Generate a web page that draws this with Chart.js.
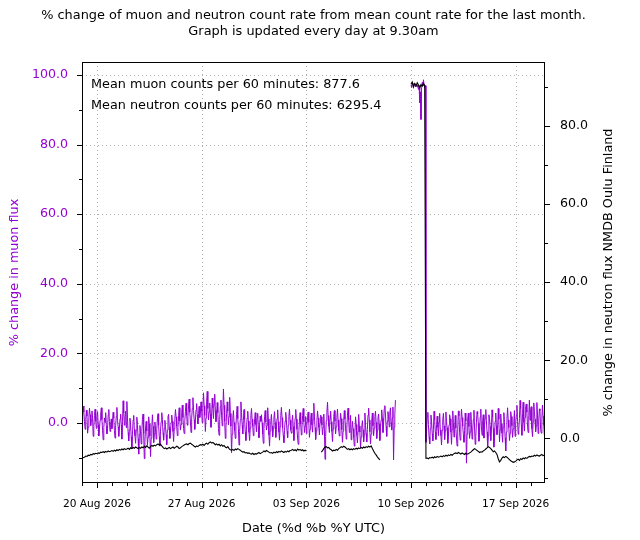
<!DOCTYPE html>
<html>
<head>
<meta charset="utf-8">
<script src="https://cdn.jsdelivr.net/npm/chart.js@4.4.0/dist/chart.umd.min.js"></script>
<style>
html, body { margin: 0; padding: 0; background: #ffffff; }
canvas { display: block; }
</style>
</head>
<body>
<canvas id="c" width="640" height="540"></canvas>
<script>
// ---- data: samples start 19 Aug 2026 00:00 UTC ----
const muonSamplesPerDay = 24;     // hourly muon values
const neutronSamplesPerDay = 12;  // 2-hourly neutron values

const muon = [
  // 19 Aug
  -0.5, 2.1, 4.9, 3.2, 0.4, -1.8, 1.1, 3.7, 2.0, -2.9, -1.2, 1.6, 4.3, 2.4, -0.7, 0.9, 3.5, 1.3, -3.8, -1.0, 2.2, 4.0, 0.6, -1.5,
  // 20 Aug
  1.8, 3.3, -0.4, -3.7, -1.9, 0.8, 2.6, 4.4, 1.0, -2.2, -4.8, -1.3, 1.5, 0.2, 3.0, -0.9, -3.1, -1.6, 2.3, 3.9, 0.5, -2.4, -0.3, 1.2,
  // 21 Aug
  -1.6, 0.9, 3.1, 1.4, -2.2, -4.3, -0.8, 2.0, 4.5, 0.7, -1.1, -3.8, -1.4, 1.2, 2.6, -0.5, -4.6, 0.4, 6.4, 2.9, -0.6, 1.8, 3.4, -1.3,
  // 22 Aug
  6.2, 1.5, -2.7, -5.1, -1.9, 1.4, -0.6, -4.0, -7.4, -3.3, 0.9, 2.2, -1.8, -3.6, -5.8, -2.1, 1.7, -0.4, -4.5, -8.9, -3.2, -0.7, -2.9, -6.0,
  // 23 Aug
  -2.4, 1.1, 2.6, -3.0, -10.2, -5.2, -1.4, 0.5, -2.3, -6.4, -4.1, 1.8, -0.2, -3.7, -9.6, -4.4, -1.2, 2.4, -0.9, -5.6, -3.1, 0.3, -1.7, -4.6,
  // 24 Aug
  -1.9, 1.2, 2.7, -0.6, -3.9, -6.6, -2.3, 0.4, 3.0, 1.1, -2.8, -4.9, -1.5, 0.8, -0.9, -3.4, -6.2, -2.0, 1.9, 2.5, -1.2, -4.4, -2.6, 0.2,
  // 25 Aug
  2.3, 0.5, -2.4, -5.3, -1.7, 1.3, 3.9, 1.8, -0.9, -3.6, -1.2, 2.1, 4.4, 0.6, -2.0, -0.4, 3.1, 5.2, 1.6, -1.5, -3.0, 0.8, 3.4, 5.7,
  // 26 Aug
  2.2, -0.6, 1.8, 4.9, 6.9, 3.1, 0.3, -2.7, 1.4, 4.2, 7.3, 3.6, 1.0, -1.8, 0.9, 3.8, 5.6, 2.4, -0.2, 2.7, 4.8, 1.6, 3.2, 6.1,
  // 27 Aug
  3.4, 0.1, 4.6, 8.7, 5.0, 2.2, -2.4, 1.5, 6.3, 9.1, 4.2, 0.9, 3.1, 5.8, 2.6, -1.2, 2.0, 7.2, 4.4, 1.3, 5.5, 8.3, 3.7, 0.4,
  // 28 Aug
  2.5, 5.9, 3.0, -1.6, -3.5, 1.1, 4.8, 6.6, 2.3, -0.8, 3.3, 9.8, 5.1, 0.6, -4.4, -1.3, 2.7, 6.1, 3.4, -0.5, 1.9, 7.4, 2.8, -0.9,
  // 29 Aug
  -8.5, -3.2, 1.4, 3.6, 0.2, -2.1, -4.4, -0.7, 2.5, 4.8, 1.3, -1.6, -6.3, -2.4, 1.0, 6.1, 3.0, -0.5, -3.1, 0.8, 3.9, 1.2, -2.6, -5.0,
  // 30 Aug
  -1.8, 1.5, 3.4, 0.6, -2.7, -5.0, -1.4, 2.2, 4.2, 1.1, -0.9, -3.6, -1.2, 0.9, 3.0, -0.4, -2.5, 1.6, 2.8, -1.1, -4.2, -0.3, 2.0, 0.5,
  // 31 Aug
  2.4, 0.1, -3.2, -5.8, -1.5, 1.8, 3.6, 0.3, -2.0, -0.6, 4.4, 1.2, -3.4, -6.6, -2.2, 0.7, 2.5, -0.8, -3.9, -1.6, 1.5, 3.3, 0.2, -4.1,
  // 01 Sep
  -1.8, 1.3, 3.8, 0.4, -2.6, -4.9, -1.0, 2.2, 4.5, 1.6, -1.3, -3.5, -5.6, -2.1, 0.6, 3.1, 1.0, -2.4, -4.2, -0.5, 1.9, 4.0, 0.8, -2.0,
  // 02 Sep
  -2.9, 0.6, 2.3, -1.0, -5.0, -2.6, 1.4, 3.9, 1.2, -1.8, -4.3, -6.1, -2.4, 0.9, 3.0, -0.3, -3.4, -1.2, 2.2, 4.2, 0.4, -2.7, -0.8, 1.9,
  // 03 Sep
  -3.0, -0.7, 1.7, 3.2, 0.2, -4.1, -1.8, 1.4, 2.9, -0.5, -2.6, 1.1, 5.7, 2.0, -1.3, -4.7, -2.2, 0.8, 3.5, 1.5, -1.2, -3.4, 0.1, 2.3,
  // 04 Sep
  1.8, -0.6, -3.4, -1.1, 2.6, -2.0, -10.4, -3.9, 0.7, 3.1, 6.0, 2.2, -0.8, -2.7, 1.3, 3.4, 0.4, -2.4, -5.3, -1.7, 1.9, 3.6, 0.5, -3.1,
  // 05 Sep
  -1.0, 1.6, 4.0, 0.9, -2.1, -3.7, -0.6, 2.8, 1.3, -1.9, -5.5, -2.3, 0.8, 3.6, 1.1, -1.4, -4.6, -1.5, 2.3, 4.3, 0.9, -2.7, -0.4, 2.2,
  // 06 Sep
  -4.8, -2.2, 0.5, -1.6, -4.1, -6.6, -3.0, 1.8, -0.4, -3.5, -5.7, -2.4, 2.5, -0.8, -2.6, -7.1, -4.0, -1.1, 0.7, -1.9, -5.4, -3.2, 2.9, -0.6,
  // 07 Sep
  -3.0, -5.4, -1.8, 2.3, 4.3, 0.9, -2.5, -6.0, -3.1, 0.6, 2.9, -0.8, -3.6, -1.4, 1.9, 3.4, 0.2, -4.4, -2.1, 1.5, 2.6, -0.2, -5.0, -1.3,
  // 08 Sep
  0.9, 3.8, 1.4, -2.7, -0.3, 4.1, 5.0, 2.6, -1.0, -3.8, 0.6, 3.3, 1.8, -1.1, 2.9, 4.4, 0.2, -2.0, 1.5, 4.6, -10.6, -1.2, 2.4, 6.6,
  // 09 Sep (no data)
  null, null, null, null, null, null, null, null, null, null, null, null,
  null, null, null, null, null, null, null, null, null, null, null, null,
  // 10 Sep
  97.0, 96.4, 97.6, 97.1, 96.9, 97.5, 97.3, 96.7, 96.6, 97.2, 97.1, 96.5, 95.8, 96.9, 92.0, 95.1, 87.2, 96.3, 97.8, 96.8, 98.6, 97.0, 96.4, 96.9,
  // 11 Sep
  -5.5, -2.3, 1.7, 3.1, -0.4, -4.0, -6.0, -1.5, 2.3, 0.6, -3.0, -5.1, -1.9, 3.4, 0.9, -2.6, -4.7, -0.4, 2.0, -1.2, -3.6, 0.3, 2.8, -1.9,
  // 12 Sep
  -3.6, -6.3, -2.1, 1.0, 2.8, -0.8, -4.7, -2.1, 3.2, 0.4, -1.3, -5.8, -3.9, -0.5, 2.4, 1.2, -2.6, -6.1, -1.8, 3.5, 0.1, -4.0, -1.8, 2.2,
  // 13 Sep
  -1.4, -4.3, -6.6, -1.7, 3.5, 2.1, -2.8, -4.9, 0.2, 4.0, 1.6, -0.9, -3.3, -5.5, -2.2, 2.9, 0.6, -11.5, -3.2, 1.2, 2.9, -1.0, -4.4, -2.5,
  // 14 Sep
  3.1, -0.5, -4.6, -2.3, 1.0, 3.7, -1.4, -6.1, -3.9, 0.2, 3.3, 2.6, -0.1, -5.2, -2.8, 1.8, 4.0, -1.1, -3.5, 0.7, 2.4, -4.3, -0.6, 1.4,
  // 15 Sep
  3.9, 0.8, -2.5, -6.7, -3.6, 2.4, 1.4, -1.0, -5.0, -2.0, 3.8, 1.8, -1.5, -6.9, -4.1, 0.5, 2.9, -0.7, -3.3, -1.5, 4.2, 1.1, -5.4, -2.0,
  // 16 Sep
  2.6, -0.3, -2.9, -5.5, -1.2, 3.0, 0.2, -4.2, -8.0, -2.6, 1.4, 4.4, 0.9, -1.3, -5.0, -2.9, 3.3, 1.9, -0.8, -4.1, -1.7, 0.5, 3.6, -3.8,
  // 17 Sep
  0.1, 2.2, 5.1, 0.5, -3.2, -1.9, 1.3, 6.5, 4.2, -0.4, -3.5, 2.8, 6.0, 0.2, -2.3, 1.6, 4.7, 5.5, 3.1, -0.9, -2.7, 2.2, 6.6, 0.8,
  // 18 Sep
  3.9, 4.7, -1.6, -3.9, 0.3, 5.8, 3.4, 1.1, -2.5, -0.7, 5.9, 2.3, -3.0, 0.6, 4.1, 3.6, -1.8, -2.9, 1.4, 5.2, 2.0, -0.5, -3.4, 3.2
];

const neutron = [
  // 19 Aug
  -5.1, -4.9, -4.8, -4.5, -4.6, -4.3, -4.4, -4.1, -4.2, -3.9, -4.0, -3.8,
  // 20 Aug
  -3.9, -3.7, -3.8, -3.5, -3.6, -3.4, -3.6, -3.3, -3.5, -3.2, -3.4, -3.3,
  // 21 Aug
  -3.1, -3.3, -3.0, -3.2, -2.9, -3.1, -2.8, -3.0, -2.7, -2.9, -2.6, -2.8,
  // 22 Aug
  -2.7, -2.5, -2.8, -2.4, -2.6, -2.3, -2.5, -2.2, -2.4, -2.6, -2.3, -2.5,
  // 23 Aug
  -2.2, -2.4, -2.0, -2.3, -1.9, -2.2, -2.5, -2.1, -1.8, -2.0, -1.7, -1.9,
  // 24 Aug
  -1.6, -1.4, -1.7, -1.5, -1.9, -2.3, -2.6, -2.4, -2.7, -2.5, -2.3, -2.6,
  // 25 Aug
  -2.4, -2.2, -2.5, -2.3, -2.0, -2.2, -2.6, -2.4, -2.1, -1.9, -1.7, -1.5,
  // 26 Aug
  -1.4, -1.6, -1.3, -1.2, -1.5, -1.7, -2.0, -2.2, -1.9, -2.1, -1.8, -1.6,
  // 27 Aug
  -1.7, -1.5, -1.8, -1.4, -1.2, -1.5, -1.1, -0.9, -1.2, -1.0, -1.3, -1.6,
  // 28 Aug
  -1.4, -1.7, -1.5, -1.9, -1.6, -2.0, -1.8, -2.2, -2.4, -2.1, -2.6, -2.9,
  // 29 Aug
  -3.0, -2.8, -3.1, -2.7, -2.9, -2.6, -2.8, -3.0, -3.3, -3.5, -3.4, -3.7,
  // 30 Aug
  -3.6, -3.8, -3.7, -3.9, -4.0, -3.8, -4.1, -3.9, -4.0, -3.8, -3.6, -3.9,
  // 31 Aug
  -3.7, -3.5, -3.2, -3.4, -3.1, -3.3, -3.5, -3.7, -3.6, -3.8, -3.5, -3.7,
  // 01 Sep
  -3.4, -3.6, -3.3, -3.5, -3.2, -3.4, -3.6, -3.3, -3.5, -3.2, -3.4, -3.1,
  // 02 Sep
  -3.0, -2.8, -3.1, -2.9, -3.2, -2.7, -3.0, -2.8, -3.1, -2.9, -3.2, -3.0,
  // 03 Sep
  -3.2, null, null, null, null, null, null, null, null, null, null, null,
  // 04 Sep
  -3.5, -3.1, -2.6, -2.2, -2.1, -2.4, -2.3, -2.7, -2.9, -3.2, -3.0, -3.1,
  // 05 Sep
  -2.8, -3.0, -2.6, -2.4, -2.1, -2.3, -2.0, -2.2, -2.5, -2.8, -2.6, -2.9,
  // 06 Sep
  -2.7, -2.9, -2.6, -2.8, -2.5, -2.7, -2.4, -2.6, -2.3, -2.5, -2.2, -2.4,
  // 07 Sep
  -2.1, -2.3, -2.0, -2.2, -1.9, -2.6, -3.2, -3.8, -4.2, -4.7, -5.1, -5.5,
  // 08 Sep (no data)
  null, null, null, null, null, null, null, null, null, null, null, null,
  // 09 Sep (no data)
  null, null, null, null, null, null, null, null, null, null, null, null,
  // 10 Sep
  90.6, 91.2, 89.9, 90.8, 90.2, 91.0, 90.4, 89.7, 90.5, 90.1, 90.8, 90.3,
  // 11 Sep
  -5.1, -5.0, -5.2, -4.9, -5.0, -4.8, -5.0, -4.7, -4.9, -4.6, -4.8, -4.7,
  // 12 Sep
  -4.5, -4.7, -4.4, -4.6, -4.3, -4.5, -4.2, -4.4, -4.1, -4.3, -4.0, -3.8,
  // 13 Sep
  -3.7, -3.9, -3.6, -3.8, -4.0, -3.7, -3.9, -4.1, -3.8, -4.0, -3.9, -3.7,
  // 14 Sep
  -3.5, -3.2, -2.9, -2.6, -2.8, -3.1, -3.3, -3.6, -3.4, -3.5, -3.2, -3.0,
  // 15 Sep
  -2.7, -2.4, -2.1, -2.3, -2.6, -3.0, -3.4, -3.2, -3.6, -4.1, -5.2, -6.0,
  // 16 Sep
  -5.6, -5.0, -4.7, -4.9, -4.6, -4.8, -5.1, -5.4, -5.7, -5.9, -6.1, -6.0,
  // 17 Sep
  -5.8, -5.5, -5.3, -5.6, -5.2, -5.4, -5.0, -5.2, -4.9, -5.1, -4.8, -4.6,
  // 18 Sep
  -4.7, -4.5, -4.6, -4.3, -4.5, -4.2, -4.4, -4.5, -4.3, -4.1, -4.4, -4.3
];

const xTickDays = [1, 8, 15, 22, 29];   // days since 19 Aug 2026
const xTickLabels = ['20 Aug 2026', '27 Aug 2026', '03 Sep 2026', '10 Sep 2026', '17 Sep 2026'];
const muonTicks = [0, 20, 40, 60, 80, 100];
const neutronTicks = [0, 20, 40, 60, 80];
const titleLines = [
  '% change of muon and neutron count rate from mean count rate for the last month.',
  'Graph is updated every day at 9.30am'
];
const noteLines = [
  'Mean muon counts per 60 minutes: 877.6',
  'Mean neutron counts per 60 minutes: 6295.4'
];
const xAxisTitle = 'Date (%d %b %Y UTC)';
const muonAxisTitle = '% change in muon flux';
const neutronAxisTitle = '% change in neutron flux NMDB Oulu Finland';

const MUON_COLOR = '#9400d3';
const FONT = "'DejaVu Sans', sans-serif";
const TEXT_SIZE = 12.8;

Chart.defaults.font.family = FONT;
Chart.defaults.color = '#000';

const decor = {
  id: 'decor',
  beforeDatasetsDraw(chart) {
    const { ctx, chartArea: a, scales } = chart;
    ctx.save();
    ctx.strokeStyle = '#b0b0b0';
    ctx.lineWidth = 1;
    ctx.setLineDash([1, 3]);
    ctx.beginPath();
    xTickDays.forEach(d => {
      const px = Math.round(scales.x.getPixelForValue(d)) + 0.5;
      ctx.moveTo(px, a.top); ctx.lineTo(px, a.bottom);
    });
    muonTicks.forEach(v => {
      const py = Math.round(scales.y.getPixelForValue(v)) + 0.5;
      ctx.moveTo(a.left, py); ctx.lineTo(a.right, py);
    });
    ctx.stroke();
    ctx.restore();
  },
  afterDraw(chart) {
    const { ctx, chartArea: a, scales } = chart;
    ctx.save();
    ctx.strokeStyle = '#000';
    ctx.lineWidth = 1;
    ctx.strokeRect(a.left + 0.5, a.top + 0.5, a.right - a.left - 1, a.bottom - a.top - 1);
    ctx.beginPath();
    const sx = scales.x;
    for (let d = Math.ceil(sx.min); d <= sx.max; d++) {
      const px = Math.round(sx.getPixelForValue(d)) + 0.5;
      const len = xTickDays.includes(d) ? 5 : 3;
      ctx.moveTo(px, a.bottom); ctx.lineTo(px, a.bottom + len);
    }
    const sy = scales.y;
    for (let v = Math.ceil(sy.min / 10) * 10; v <= sy.max; v += 10) {
      const py = Math.round(sy.getPixelForValue(v)) + 0.5;
      const len = muonTicks.includes(v) ? 5 : 3;
      ctx.moveTo(a.left - len, py); ctx.lineTo(a.left, py);
    }
    const sy2 = scales.y2;
    for (let v = Math.ceil(sy2.min / 10) * 10; v <= sy2.max; v += 10) {
      const py = Math.round(sy2.getPixelForValue(v)) + 0.5;
      const len = neutronTicks.includes(v) ? 5 : 3;
      ctx.moveTo(a.right, py); ctx.lineTo(a.right + len, py);
    }
    ctx.stroke();

    ctx.fillStyle = '#000';
    ctx.font = '12.9px ' + FONT;
    ctx.textAlign = 'center';
    ctx.textBaseline = 'alphabetic';
    const cx = (a.left + a.right) / 2;
    ctx.fillText(titleLines[0], cx, 19);
    ctx.fillText(titleLines[1], cx, 35);

    ctx.font = TEXT_SIZE + 'px ' + FONT;
    ctx.textAlign = 'left';
    ctx.fillText(noteLines[0], a.left + 9, a.top + 26);
    ctx.fillText(noteLines[1], a.left + 9, a.top + 47);

    ctx.textAlign = 'center';
    ctx.textBaseline = 'middle';
    ctx.fillText(xAxisTitle, cx, 529);

    const cy = (a.top + a.bottom) / 2;
    ctx.save();
    ctx.translate(15, cy);
    ctx.rotate(-Math.PI / 2);
    ctx.fillStyle = MUON_COLOR;
    ctx.fillText(muonAxisTitle, 0, 0);
    ctx.restore();

    ctx.save();
    ctx.translate(609, cy);
    ctx.rotate(-Math.PI / 2);
    ctx.fillStyle = '#000';
    ctx.fillText(neutronAxisTitle, 0, 0);
    ctx.restore();

    ctx.restore();
  }
};

new Chart(document.getElementById('c'), {
  type: 'line',
  data: {
    datasets: [
      {
        label: 'Neutron',
        data: neutron.map((v, i) => ({ x: i / neutronSamplesPerDay, y: v })),
        yAxisID: 'y2',
        borderColor: '#000000',
        borderWidth: 1.1,
        pointRadius: 0,
        tension: 0,
        spanGaps: false
      },
      {
        label: 'Muon',
        data: muon.map((v, i) => ({ x: i / muonSamplesPerDay, y: v })),
        yAxisID: 'y',
        borderColor: MUON_COLOR,
        borderWidth: 1,
        pointRadius: 0,
        tension: 0,
        spanGaps: false
      }
    ]
  },
  options: {
    responsive: false,
    animation: false,
    devicePixelRatio: 1,
    layout: { padding: { top: 62, left: 0, right: 0, bottom: 0 } },
    plugins: {
      legend: { display: false },
      title: { display: false },
      tooltip: { enabled: false }
    },
    scales: {
      x: {
        type: 'linear',
        min: 0,
        max: 30.96,
        grid: { display: false, drawTicks: false },
        border: { display: false },
        afterBuildTicks: s => { s.ticks = xTickDays.map(v => ({ value: v })); },
        afterFit: s => { s.height = 57; },
        ticks: {
          autoSkip: false,
          maxRotation: 0,
          minRotation: 0,
          padding: 15,
          font: { size: 10.6 },
          color: '#000',
          callback: v => xTickLabels[xTickDays.indexOf(v)]
        }
      },
      y: {
        type: 'linear',
        position: 'left',
        min: -17.2,
        max: 103.7,
        grid: { display: false, drawTicks: false },
        border: { display: false },
        afterBuildTicks: s => { s.ticks = muonTicks.map(v => ({ value: v })); },
        afterFit: s => { s.width = 82; },
        ticks: {
          padding: 14,
          font: { size: 12.6 },
          color: MUON_COLOR,
          callback: v => Number(v).toFixed(1)
        }
      },
      y2: {
        type: 'linear',
        position: 'right',
        min: -11.4,
        max: 96.3,
        grid: { display: false, drawTicks: false },
        border: { display: false },
        afterBuildTicks: s => { s.ticks = neutronTicks.map(v => ({ value: v })); },
        afterFit: s => { s.width = 95; },
        ticks: {
          padding: 15,
          font: { size: 12.6 },
          color: '#000',
          callback: v => Number(v).toFixed(1)
        }
      }
    }
  },
  plugins: [decor]
});
</script>
</body>
</html>
